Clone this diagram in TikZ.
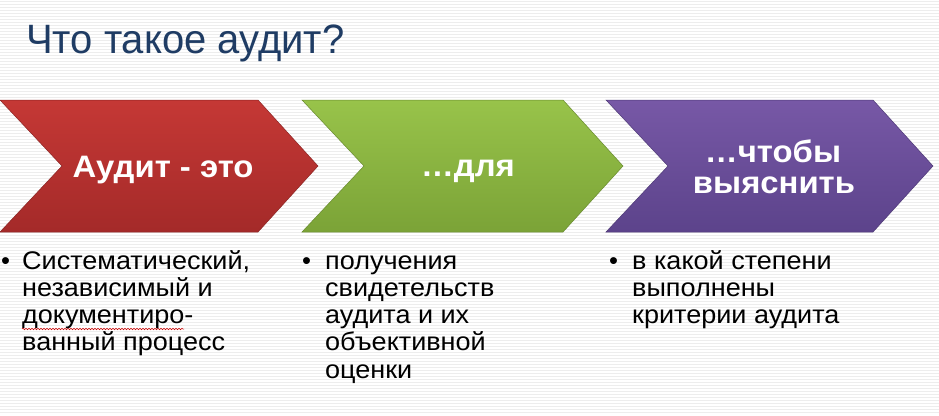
\documentclass[tikz,border=0pt]{standalone}
\usepackage{fontspec}
\setmainfont{Liberation Sans}
\usetikzlibrary{decorations.pathmorphing}
\definecolor{titleblue}{HTML}{1F3C64}
\definecolor{redT}{HTML}{C53835}
\definecolor{redM}{HTML}{CD3C39}
\definecolor{redB}{HTML}{A42A29}
\definecolor{grnT}{HTML}{98C34A}
\definecolor{grnM}{HTML}{8FBA40}
\definecolor{grnB}{HTML}{7BA337}
\definecolor{purT}{HTML}{7758A6}
\definecolor{purM}{HTML}{6E4F9E}
\definecolor{purB}{HTML}{5C438B}
\definecolor{stripe}{HTML}{EDEDED}
\tikzset{
  chevtext/.style={anchor=base, text=white, font=\bfseries\fontsize{31}{31}\selectfont, inner sep=0pt},
  bullettext/.style={anchor=base west, inner sep=0pt, font=\fontsize{25.5}{27.3}\selectfont, text=black},
  titletext/.style={anchor=base west, inner sep=0pt, font=\fontsize{41}{48}\selectfont, text=titleblue}
}
\newcommand\sx[1]{\scalebox{1.06}[1]{#1}}
\newcommand\chevronshape[5]{%
  \shade[top color=#3, middle color=#4, bottom color=#5, draw=#5!85!black, line width=0.5pt]
    (#1,100) -- ++(#2,0) -- ++(60,66) -- ++(-60,66) -- ++(-#2,0) -- ++(62,-66) -- cycle;}
\begin{document}
\begin{tikzpicture}[x=1pt,y=-1pt]
  \useasboundingbox (0,0) rectangle (939,415);
  \fill[white] (0,0) rectangle (939,415);
  \foreach \yy in {1.5,4.5,...,415} {\draw[stripe, line width=0.9pt] (0,\yy) -- (939,\yy);}
  % title
  \node[titletext] (title) at (26,53) {\scalebox{0.975}[1]{Что такое аудит?}};
  % chevrons
  \chevronshape{0}{258}{redT}{redM}{redB}
  \chevronshape{302}{261}{grnT}{grnM}{grnB}
  \chevronshape{606}{267}{purT}{purM}{purB}
  \node[chevtext] (c1) at (163,177) {\sx{Аудит - это}};
  \node[chevtext] (c2) at (468,176) {\sx{…для}};
  \node[chevtext] (c3a) at (773,162) {\sx{…чтобы}};
  \node[chevtext] (c3b) at (774,193) {\sx{выяснить}};
  % bullets
  \node[bullettext] (b1) at (1,269) {•};
  \node[bullettext] (l1) at (22,269) {\vtop{\hbox{\sx{Систематический,}}\hbox{\sx{независимый и}}\hbox{\sx{документиро-}}\hbox{\sx{ванный процесс}}}};
  \node[bullettext] (b2) at (302,269) {•};
  \node[bullettext] (l2) at (325,269) {\vtop{\hbox{\sx{получения}}\hbox{\sx{свидетельств}}\hbox{\sx{аудита и их}}\hbox{\sx{объективной}}\hbox{\sx{оценки}}}};
  \node[bullettext] (b3) at (609,269) {•};
  \node[bullettext] (l3) at (632,269) {\vtop{\hbox{\sx{в какой степени}}\hbox{\sx{выполнены}}\hbox{\sx{критерии аудита}}}};
  % spell-check squiggle
  \coordinate (sq1) at (22,329);
  \coordinate (sq2) at (184,329);
  \draw[red!80!black, line width=0.5pt, decorate, decoration={snake, amplitude=0.8pt, segment length=3pt}] (sq1) -- (sq2);
\end{tikzpicture}
\end{document}
